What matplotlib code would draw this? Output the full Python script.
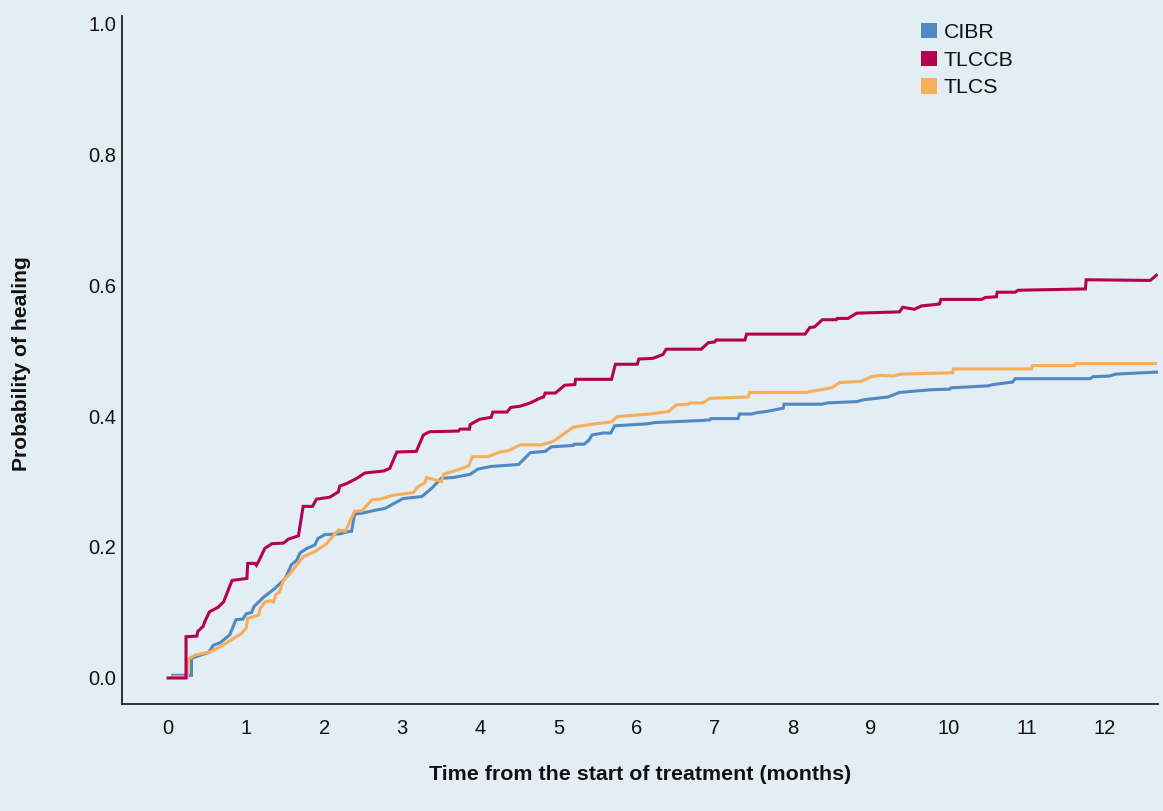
import matplotlib
matplotlib.use("Agg")
import matplotlib.pyplot as plt
from matplotlib.patches import Patch

plt.rcParams['font.family'] = ['Liberation Sans', 'DejaVu Sans']

# CIBR (months, probability of healing)
cibr_t = [0.06, 0.30, 0.30, 0.37, 0.52, 0.58, 0.67, 0.79, 0.87, 0.96, 1.00, 1.07, 1.10, 1.22, 1.37,
          1.50, 1.58, 1.65, 1.69, 1.78, 1.88, 1.92, 2.01, 2.20, 2.29, 2.35, 2.39, 2.50, 2.65, 2.78,
          3.01, 3.25, 3.38, 3.50, 3.65, 3.87, 3.97, 4.14, 4.49, 4.64, 4.83, 4.91, 5.19, 5.20, 5.33,
          5.39, 5.43, 5.57, 5.67, 5.72, 6.13, 6.24, 6.81, 6.94, 6.95, 7.30, 7.32, 7.47, 7.54, 7.67,
          7.88, 7.89, 8.37, 8.45, 8.82, 8.92, 9.22, 9.37, 9.76, 10.01, 10.03, 10.50, 10.57, 10.82,
          10.85, 11.81, 11.85, 12.06, 12.14, 12.66]
cibr_p = [0.004, 0.004, 0.030, 0.033, 0.039, 0.050, 0.054, 0.066, 0.089, 0.090, 0.098, 0.100, 0.109,
          0.123, 0.137, 0.152, 0.173, 0.180, 0.191, 0.198, 0.203, 0.213, 0.219, 0.220, 0.223, 0.224,
          0.250, 0.252, 0.256, 0.259, 0.274, 0.277, 0.290, 0.305, 0.306, 0.311, 0.319, 0.323, 0.326,
          0.344, 0.346, 0.353, 0.355, 0.357, 0.357, 0.363, 0.371, 0.374, 0.374, 0.385, 0.388, 0.390,
          0.393, 0.394, 0.396, 0.396, 0.403, 0.403, 0.405, 0.407, 0.412, 0.418, 0.418, 0.420, 0.422,
          0.425, 0.429, 0.436, 0.440, 0.441, 0.443, 0.446, 0.448, 0.452, 0.457, 0.457, 0.460, 0.461,
          0.464, 0.467]

# TLCCB
tlccb_t = [0.00, 0.23, 0.23, 0.37, 0.38, 0.45, 0.47, 0.53, 0.64, 0.71, 0.82, 1.01, 1.02, 1.11, 1.13,
           1.16, 1.24, 1.33, 1.48, 1.54, 1.67, 1.73, 1.85, 1.90, 2.07, 2.18, 2.20, 2.29, 2.42, 2.52,
           2.76, 2.84, 2.93, 3.18, 3.27, 3.35, 3.72, 3.74, 3.86, 3.87, 3.99, 4.14, 4.16, 4.34, 4.39,
           4.51, 4.64, 4.76, 4.81, 4.83, 4.96, 5.08, 5.21, 5.22, 5.68, 5.73, 6.01, 6.03, 6.21, 6.34,
           6.38, 6.83, 6.92, 7.00, 7.02, 7.39, 7.41, 8.16, 8.22, 8.28, 8.38, 8.56, 8.57, 8.71, 8.82,
           9.37, 9.41, 9.56, 9.65, 9.88, 9.90, 10.42, 10.47, 10.61, 10.62, 10.85, 10.89, 11.75, 11.76,
           12.58, 12.66]
tlccb_p = [0.000, 0.000, 0.063, 0.064, 0.071, 0.079, 0.086, 0.101, 0.108, 0.116, 0.149, 0.152, 0.175,
           0.175, 0.172, 0.178, 0.198, 0.205, 0.206, 0.212, 0.217, 0.262, 0.262, 0.273, 0.276, 0.284,
           0.293, 0.297, 0.305, 0.313, 0.316, 0.320, 0.345, 0.346, 0.371, 0.376, 0.377, 0.380, 0.380,
           0.387, 0.395, 0.398, 0.406, 0.406, 0.413, 0.415, 0.420, 0.427, 0.429, 0.435, 0.435, 0.447,
           0.448, 0.456, 0.456, 0.479, 0.479, 0.487, 0.488, 0.494, 0.502, 0.502, 0.512, 0.513, 0.516,
           0.516, 0.525, 0.525, 0.535, 0.536, 0.547, 0.547, 0.549, 0.549, 0.557, 0.559, 0.566, 0.563,
           0.568, 0.571, 0.578, 0.578, 0.581, 0.582, 0.589, 0.589, 0.592, 0.594, 0.608, 0.607, 0.615]

# TLCS
tlcs_t = [0.07, 0.25, 0.26, 0.35, 0.54, 0.67, 0.82, 0.94, 1.00, 1.02, 1.16, 1.18, 1.24, 1.31, 1.35,
          1.38, 1.43, 1.48, 1.56, 1.73, 1.88, 2.03, 2.18, 2.27, 2.39, 2.48, 2.61, 2.71, 2.88, 3.14,
          3.20, 3.29, 3.31, 3.50, 3.53, 3.74, 3.85, 3.90, 4.10, 4.25, 4.36, 4.51, 4.78, 4.93, 5.19,
          5.40, 5.68, 5.75, 6.17, 6.41, 6.51, 6.66, 6.69, 6.85, 6.94, 7.43, 7.45, 8.17, 8.50, 8.60,
          8.88, 9.01, 9.12, 9.29, 9.39, 10.05, 10.06, 11.06, 11.07, 11.61, 11.63, 12.65]
tlcs_p = [0.002, 0.002, 0.029, 0.035, 0.040, 0.048, 0.059, 0.068, 0.076, 0.091, 0.096, 0.106, 0.116,
          0.118, 0.116, 0.127, 0.132, 0.150, 0.159, 0.185, 0.193, 0.205, 0.226, 0.224, 0.255, 0.255,
          0.272, 0.273, 0.279, 0.283, 0.292, 0.298, 0.306, 0.300, 0.311, 0.319, 0.324, 0.338, 0.338,
          0.345, 0.347, 0.356, 0.356, 0.361, 0.383, 0.387, 0.391, 0.399, 0.403, 0.407, 0.417, 0.418,
          0.420, 0.420, 0.427, 0.429, 0.436, 0.436, 0.443, 0.451, 0.453, 0.460, 0.462, 0.461, 0.464,
          0.466, 0.472, 0.472, 0.477, 0.477, 0.480, 0.480]

series_names = ['CIBR', 'TLCCB', 'TLCS']
colors = ['#5088c4', '#b5004f', '#f8ad5a']
x_ticks = list(range(0, 13))
y_ticks = [0.0, 0.2, 0.4, 0.6, 0.8, 1.0]

bg = '#e2edf4'
fig = plt.figure(figsize=(11.63, 8.11), dpi=100, facecolor=bg)
ax = fig.add_axes([122 / 1163, 1 - 704 / 811, (1158 - 122) / 1163, (704 - 16) / 811])
ax.set_facecolor(bg)

# draw order: blue, orange, red
ax.plot(cibr_t, cibr_p, color=colors[0], lw=2.2, solid_joinstyle='miter', zorder=3)
ax.plot(tlcs_t, tlcs_p, color=colors[2], lw=2.2, solid_joinstyle='miter', zorder=3)
ax.plot(tlccb_t, tlccb_p, color=colors[1], lw=2.2, solid_joinstyle='miter', zorder=4)

ax.set_xlim(-0.59, 12.68)
ax.set_ylim(-0.0397, 1.0107)
ax.set_xticks(x_ticks)
ax.set_xticklabels([str(v) for v in x_ticks])
ax.set_yticks(y_ticks)
ax.set_yticklabels([f'{v:.1f}' for v in y_ticks])
ax.tick_params(axis='both', length=0, labelsize=14.5, colors='#111111')
ax.tick_params(axis='x', pad=11)
ax.tick_params(axis='y', pad=4)

for s in ['top', 'right']:
    ax.spines[s].set_visible(False)
for s in ['left', 'bottom']:
    ax.spines[s].set_color('#222222')
    ax.spines[s].set_linewidth(1.3)

ax.set_xlabel('Time from the start of treatment (months)', fontsize=15.4, fontweight='bold',
              color='#111111', labelpad=19)
fig.text(22 / 1163, 1 - 364 / 811, 'Probability of healing', rotation=90, fontsize=15.2,
         fontweight='bold', color='#111111', ha='center', va='center')

handles = [Patch(facecolor=c, edgecolor='none') for c in colors]
leg = fig.legend(handles, series_names, loc='upper left',
                 bbox_to_anchor=(921 / 1163, 1 - 23 / 811), frameon=False,
                 fontsize=15.3, handlelength=0.74, handleheight=0.74, handletextpad=0.33,
                 labelspacing=0.4, borderpad=0, borderaxespad=0)
for t in leg.get_texts():
    t.set_color('#111111')

fig.savefig('out.png', dpi=100, facecolor=bg)
